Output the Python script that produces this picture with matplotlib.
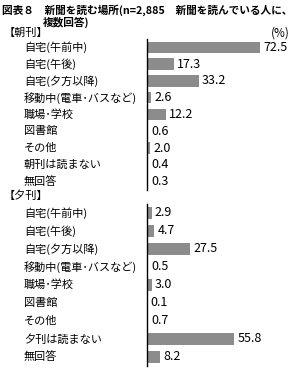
import matplotlib.pyplot as plt
from matplotlib.transforms import blended_transform_factory

plt.rcParams['font.family'] = ['Noto Sans CJK JP', 'DejaVu Sans']

morning_labels = ["自宅(午前中)", "自宅(午後)", "自宅(夕方以降)", "移動中(電車･バスなど)",
                  "職場･学校", "図書館", "その他", "朝刊は読まない", "無回答"]
morning_values = [72.5, 17.3, 33.2, 2.6, 12.2, 0.6, 2.0, 0.4, 0.3]

evening_labels = ["自宅(午前中)", "自宅(午後)", "自宅(夕方以降)", "移動中(電車･バスなど)",
                  "職場･学校", "図書館", "その他", "夕刊は読まない", "無回答"]
evening_values = [2.9, 4.7, 27.5, 0.5, 3.0, 0.1, 0.7, 55.8, 8.2]

W, H = 300, 370
fig = plt.figure(figsize=(W / 100, H / 100), dpi=100)
fig.patch.set_facecolor("white")

BAR = "#8c8c8c"


def fx(px):
    return px / W


def fy(py):
    return 1 - py / H


def section(top, bottom, labels, values, header, header_y):
    ax = fig.add_axes([fx(147), fy(bottom), fx(290) - fx(147), (bottom - top) / H])
    n = len(values)
    ax.barh(range(n), values, height=0.68, color=BAR, edgecolor="none")
    ax.set_xlim(0, 92)
    ax.set_ylim(n - 0.5, -0.5)
    for s in ["top", "right", "bottom"]:
        ax.spines[s].set_visible(False)
    ax.spines["left"].set_linewidth(1.0)
    ax.spines["left"].set_color("black")
    ax.set_xticks([])
    ax.set_yticks([])
    ax.patch.set_alpha(0)
    tr = blended_transform_factory(fig.transFigure, ax.transData)
    for i, (lab, v) in enumerate(zip(labels, values)):
        ax.text(fx(24), i, lab, transform=tr, ha="left", va="center", fontsize=8)
        ax.text(v + 2.2, i, f"{v:.1f}", ha="left", va="center", fontsize=9)
    fig.text(fx(4), fy(header_y), header, ha="left", va="center", fontsize=8)
    return ax


fig.text(fx(2), fy(10), "図表８　新聞を読む場所(n=2,885　新聞を読んでいる人に、",
         ha="left", va="center", fontsize=7.7, fontweight="bold")
fig.text(fx(43), fy(22), "複数回答)", ha="left", va="center", fontsize=7.7, fontweight="bold")
fig.text(fx(290), fy(33), "(%)", ha="right", va="center", fontsize=8.5)

section(39, 190, morning_labels, morning_values, "【朝刊】", 33)
section(204, 366, evening_labels, evening_values, "【夕刊】", 196)

fig.savefig("out.png", dpi=100)
